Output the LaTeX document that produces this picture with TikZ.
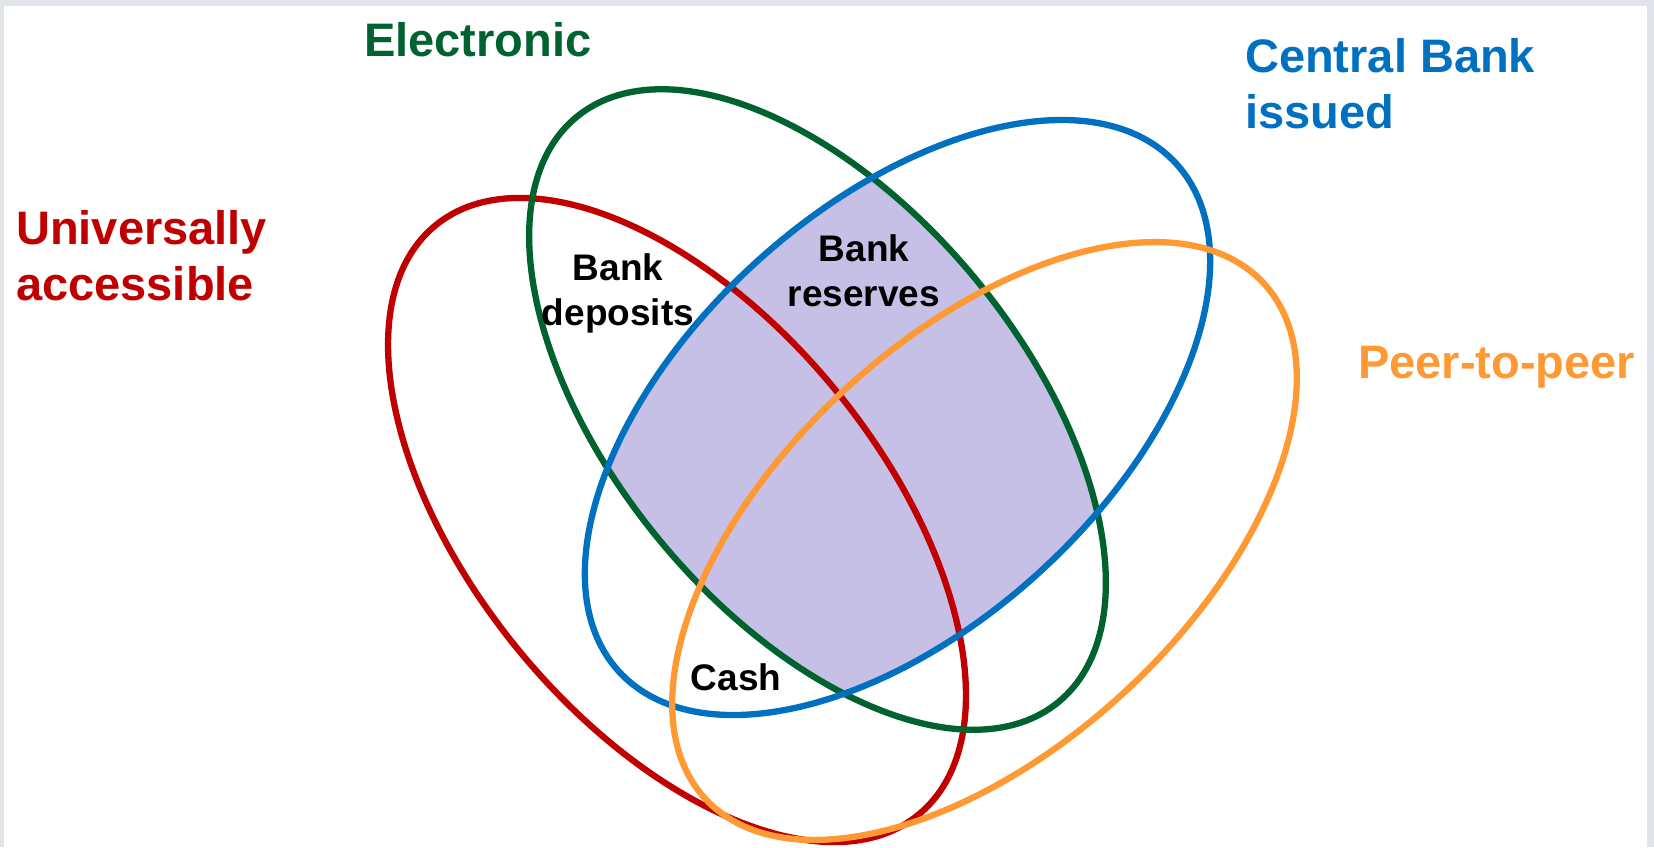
\documentclass[tikz,border=0pt]{standalone}
\usepackage{fontspec}
\setmainfont{Liberation Sans}
\definecolor{cred}{HTML}{C00000}
\definecolor{cgreen}{HTML}{00622E}
\definecolor{cblue}{HTML}{0070C0}
\definecolor{corange}{HTML}{FF9933}
\definecolor{cfill}{HTML}{C7C0E6}
\definecolor{cframe}{HTML}{E1E4E9}
\tikzset{
  ring/.style={line width=6.3pt},
  biglabel/.style={font=\bfseries\fontsize{47}{56}\selectfont, inner sep=0pt, align=left},
  smalllabel/.style={font=\bfseries\fontsize{37}{45}\selectfont, inner sep=0pt, align=center, text=black},
}
\begin{document}
\begin{tikzpicture}[x=1pt,y=1pt]
\useasboundingbox (0,0) rectangle (1654,-847);
\fill[cframe] (0,0) rectangle (1654,-847);
\fill[white] (4,-6) rectangle (1647,-847);
% shaded intersection of Electronic and Central Bank issued
\begin{scope}
  \clip[shift={(817.5,-409.5)}, rotate=-50.5] (0,0) ellipse [x radius=379, y radius=205];
  \fill[cfill, shift={(897.5,-417.5)}, rotate=42.3] (0,0) ellipse [x radius=377, y radius=210];
\end{scope}
% Universally accessible
\draw[ring, cred, shift={(677,-520)}, rotate=-50.65] (0,0) ellipse [x radius=381, y radius=205];
% Electronic
\draw[ring, cgreen, shift={(817.5,-409.5)}, rotate=-50.5] (0,0) ellipse [x radius=379, y radius=205];
% Central Bank issued
\draw[ring, cblue, shift={(897.5,-417.5)}, rotate=42.3] (0,0) ellipse [x radius=377, y radius=210];
% Peer-to-peer
\draw[ring, corange, shift={(984.5,-541)}, rotate=42.7] (0,0) ellipse [x radius=380, y radius=206];
% labels (base anchor = baseline of the last line)
\node[biglabel, text=cred, anchor=base west] (univ) at (16,-300) {Universally\\accessible};
\node[biglabel, text=cgreen, anchor=base west] (elec) at (364,-56) {Electronic};
\node[biglabel, text=cblue, anchor=base west] (cb) at (1245,-128) {Central Bank\\issued};
\node[biglabel, text=corange, anchor=base west] (p2p) at (1358,-378) {Peer-to-peer};
\node[smalllabel, anchor=base] (dep) at (618,-325) {Bank\\deposits};
\node[smalllabel, anchor=base] (res) at (864,-306) {Bank\\reserves};
\node[smalllabel, anchor=base] (cash) at (736,-690) {Cash};
\end{tikzpicture}
\end{document}
